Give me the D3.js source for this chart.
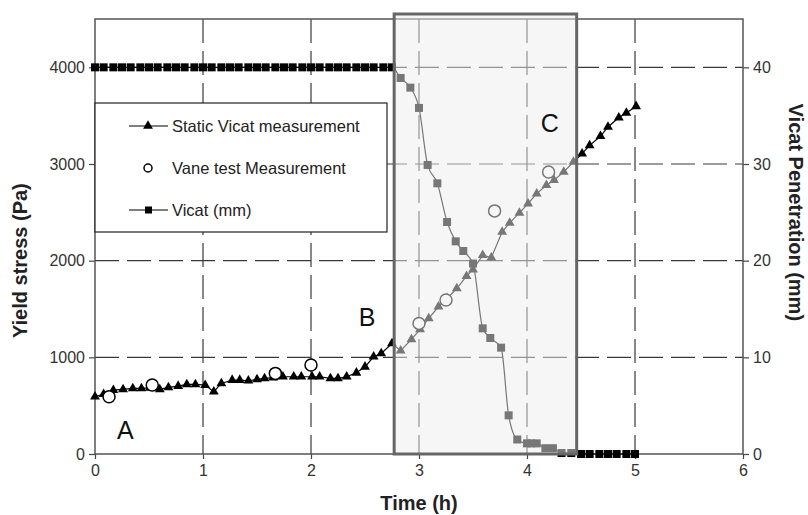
<!DOCTYPE html>
<html>
<head>
<meta charset="utf-8">
<script src="https://cdn.jsdelivr.net/npm/d3@7"></script>
<style>
  body { margin: 0; background: #fff; }
  text { font-family: "Liberation Sans", Arial, Helvetica, sans-serif; }
</style>
</head>
<body>
<div id="chart-area"></div>
<script>
// values
const staticTime = [0, 0.08, 0.17, 0.26, 0.35, 0.43, 0.51, 0.60, 0.68, 0.77, 0.85, 0.93, 1.02, 1.10, 1.17,
  1.27, 1.34, 1.42, 1.50, 1.57, 1.65, 1.74, 1.84, 1.91, 2.01, 2.08, 2.18, 2.25, 2.33, 2.42, 2.50, 2.58,
  2.65, 2.75, 2.83, 2.93, 3.01, 3.09, 3.18, 3.26, 3.35, 3.44, 3.50, 3.59, 3.67, 3.77, 3.84, 3.93, 4.01,
  4.09, 4.18, 4.25, 4.34, 4.43, 4.51, 4.58, 4.68, 4.75, 4.85, 4.92, 5.01];
const staticStress = [592, 620, 661, 668, 678, 678, 685, 668, 689, 703, 720, 720, 713, 644, 730,
  765, 765, 758, 772, 782, 790, 799, 799, 799, 799, 799, 782, 782, 799, 840, 902, 1006,
  1040, 1143, 1068, 1185, 1290, 1402, 1523, 1610, 1712, 1840, 1908, 2057, 2032, 2298, 2391, 2494, 2590,
  2694, 2780, 2832, 2918, 3021, 3107, 3193, 3287, 3383, 3480, 3528, 3597];

const vaneTime = [0.13, 0.53, 1.67, 2.00, 3.00, 3.25, 3.70, 4.20];
const vaneStress = [592, 713, 834, 920, 1351, 1593, 2515, 2918];

const vicatTime = [0, 0.08, 0.17, 0.25, 0.33, 0.42, 0.5, 0.58, 0.67, 0.75, 0.83, 0.92, 1, 1.08, 1.17,
  1.25, 1.33, 1.42, 1.5, 1.58, 1.67, 1.75, 1.83, 1.92, 2, 2.08, 2.17, 2.25, 2.33, 2.42, 2.5, 2.58, 2.67,
  2.75, 2.83, 2.92, 3.00, 3.08, 3.17, 3.26, 3.34, 3.41, 3.50, 3.59, 3.66, 3.76, 3.83, 3.91, 4.00, 4.04,
  4.09, 4.17, 4.24, 4.32, 4.41, 4.50, 4.58, 4.67, 4.75, 4.83, 4.92, 5.00];
const vicatMm = [40, 40, 40, 40, 40, 40, 40, 40, 40, 40, 40, 40, 40, 40, 40,
  40, 40, 40, 40, 40, 40, 40, 40, 40, 40, 40, 40, 40, 40, 40, 40, 40, 40,
  40, 38.9, 37.9, 35.8, 29.9, 28.0, 24.0, 22.0, 21.0, 19.7, 13.0, 12.0, 11.0, 4.0, 1.5, 1.1, 1.1,
  1.1, 0.6, 0.6, 0.1, 0.1, 0, 0, 0, 0, 0, 0, 0];

const xTicks = [0, 1, 2, 3, 4, 5, 6];
const yTicks = [0, 1000, 2000, 3000, 4000];
const y2Ticks = [0, 10, 20, 30, 40];

// shaded zone (h)
const zoneStart = 2.77;
const zoneEnd = 4.46;

// zone letters
const zoneLabels = ["A", "B", "C"];
const zoneLabelTime = [0.28, 2.52, 4.21];
const zoneLabelStress = [248, 1416, 3421];

const legendNames = ["Static Vicat measurement", "Vane test Measurement", "Vicat (mm)"];

// margins
const margin = { left: 95, right: 65, top: 19, bottom: 61 };
const width = 808 - margin.left - margin.right;
const height = 515 - margin.top - margin.bottom;

const svg = d3.select("#chart-area")
  .append("svg")
    .attr("width", 808)
    .attr("height", 515);
const g = svg.append("g")
    .attr("transform", "translate(" + margin.left + ", " + margin.top + ")");

const x = d3.scaleLinear().domain([0, 6]).range([0, width]);
const y = d3.scaleLinear().domain([0, 4500]).range([height, 0]);
const y2 = d3.scaleLinear().domain([0, 45]).range([height, 0]);

const gridColor = "#3a3a3a";
const dash = "24,8";

// grid lines
g.selectAll(".vgrid")
  .data(xTicks.filter(d => d > 0 && d < 6))
  .enter().append("line")
    .attr("x1", d => x(d)).attr("x2", d => x(d))
    .attr("y1", 0).attr("y2", height)
    .attr("stroke", gridColor).attr("stroke-width", 1.2)
    .attr("stroke-dasharray", dash);
g.selectAll(".hgrid")
  .data(yTicks.filter(d => d > 0))
  .enter().append("line")
    .attr("x1", 0).attr("x2", width)
    .attr("y1", d => y(d)).attr("y2", d => y(d))
    .attr("stroke", gridColor).attr("stroke-width", 1.2)
    .attr("stroke-dasharray", dash);

// axes
const fmt = d3.format("d");
const xAxis = g.append("g")
  .attr("transform", "translate(0," + height + ")")
  .call(d3.axisBottom(x).tickValues(xTicks).tickSize(5).tickPadding(6).tickFormat(fmt));
const yAxis = g.append("g")
  .call(d3.axisLeft(y).tickValues(yTicks).tickSize(6).tickPadding(4).tickFormat(fmt));
const y2Axis = g.append("g")
  .attr("transform", "translate(" + width + ",0)")
  .call(d3.axisRight(y2).tickValues(y2Ticks).tickSize(6).tickPadding(4).tickFormat(fmt));

[xAxis, yAxis, y2Axis].forEach(function(a) {
  a.select(".domain").remove();
  a.selectAll(".tick line").attr("stroke", "#444").attr("stroke-width", 1.2);
  a.selectAll(".tick text").attr("font-size", "16px").attr("fill", "#333")
    .attr("font-family", "'Liberation Sans', Arial, sans-serif");
});

// frame
g.append("rect")
  .attr("x", 0).attr("y", 0)
  .attr("width", width).attr("height", height)
  .attr("fill", "none")
  .attr("stroke", "#555").attr("stroke-width", 1.5);

// series
const staticData = staticTime.map((t, i) => ({ t: t, v: staticStress[i] }));
const vaneData = vaneTime.map((t, i) => ({ t: t, v: vaneStress[i] }));
const vicatData = vicatTime.map((t, i) => ({ t: t, v: vicatMm[i] }));

g.append("path")
  .datum(vicatData)
  .attr("fill", "none").attr("stroke", "#000").attr("stroke-width", 1.2)
  .attr("d", d3.line().curve(d3.curveMonotoneX).x(d => x(d.t)).y(d => y2(d.v)));
g.selectAll(".sq")
  .data(vicatData)
  .enter().append("rect")
    .attr("x", d => x(d.t) - 4).attr("y", d => y2(d.v) - 4)
    .attr("width", 8).attr("height", 8)
    .attr("fill", "#000");

g.append("path")
  .datum(staticData)
  .attr("fill", "none").attr("stroke", "#000").attr("stroke-width", 1.2)
  .attr("d", d3.line().x(d => x(d.t)).y(d => y(d.v)));
const tri = d3.symbol().type(d3.symbolTriangle).size(42);
g.selectAll(".tri")
  .data(staticData)
  .enter().append("path")
    .attr("d", tri)
    .attr("transform", d => "translate(" + x(d.t) + "," + y(d.v) + ")")
    .attr("fill", "#000");

g.selectAll(".vane")
  .data(vaneData)
  .enter().append("circle")
    .attr("cx", d => x(d.t)).attr("cy", d => y(d.v))
    .attr("r", 6)
    .attr("fill", "#fff").attr("stroke", "#000").attr("stroke-width", 1.5);

// shaded zone, drawn over the data
g.append("rect")
  .attr("x", x(zoneStart)).attr("y", -5)
  .attr("width", x(zoneEnd) - x(zoneStart))
  .attr("height", height + 5)
  .attr("fill", "#eeeeee").attr("fill-opacity", 0.5)
  .attr("stroke", "#666").attr("stroke-width", 3);

// zone letters
zoneLabels.forEach(function(l, i) {
  g.append("text")
    .attr("x", x(zoneLabelTime[i]))
    .attr("y", y(zoneLabelStress[i]))
    .attr("text-anchor", "middle")
    .attr("dominant-baseline", "central")
    .attr("font-size", "25px")
    .attr("fill", "#111")
    .text(l);
});

// axis titles
g.append("text")
  .attr("x", x(3)).attr("y", height + 56)
  .attr("text-anchor", "middle")
  .attr("font-size", "20px").attr("font-weight", "bold").attr("fill", "#222")
  .text("Time (h)");
g.append("text")
  .attr("transform", "translate(" + (-68) + "," + (y(2000)) + ") rotate(-90)")
  .attr("text-anchor", "middle")
  .attr("font-size", "20px").attr("font-weight", "bold").attr("fill", "#222")
  .text("Yield stress (Pa)");
g.append("text")
  .attr("transform", "translate(" + (width + 46) + "," + (y(2500)) + ") rotate(90)")
  .attr("text-anchor", "middle")
  .attr("font-size", "20px").attr("font-weight", "bold").attr("fill", "#222")
  .text("Vicat Penetration (mm)");

// legend
const legend = g.append("g").attr("transform", "translate(0,84)");
legend.append("rect")
  .attr("x", 0).attr("y", 0)
  .attr("width", 292).attr("height", 129)
  .attr("fill", "#fff").attr("stroke", "#222").attr("stroke-width", 1.2);

legendNames.forEach(function(name, i) {
  const row = legend.append("g").attr("transform", "translate(0," + (23 + i * 42) + ")");
  if (i !== 1) {
    row.append("line")
      .attr("x1", 34).attr("x2", 73).attr("y1", 0).attr("y2", 0)
      .attr("stroke", "#000").attr("stroke-width", 1.2);
  }
  if (i === 0) {
    row.append("path").attr("d", tri).attr("transform", "translate(53,0)").attr("fill", "#000");
  } else if (i === 1) {
    row.append("circle").attr("cx", 53).attr("cy", 0).attr("r", 4)
      .attr("fill", "#fff").attr("stroke", "#000").attr("stroke-width", 1.5);
  } else {
    row.append("rect").attr("x", 50).attr("y", -3.5).attr("width", 7).attr("height", 7).attr("fill", "#000");
  }
  row.append("text")
    .attr("x", 77).attr("y", 0)
    .attr("dominant-baseline", "central")
    .attr("font-size", "16.5px").attr("fill", "#222")
    .text(name);
});
</script>
</body>
</html>
